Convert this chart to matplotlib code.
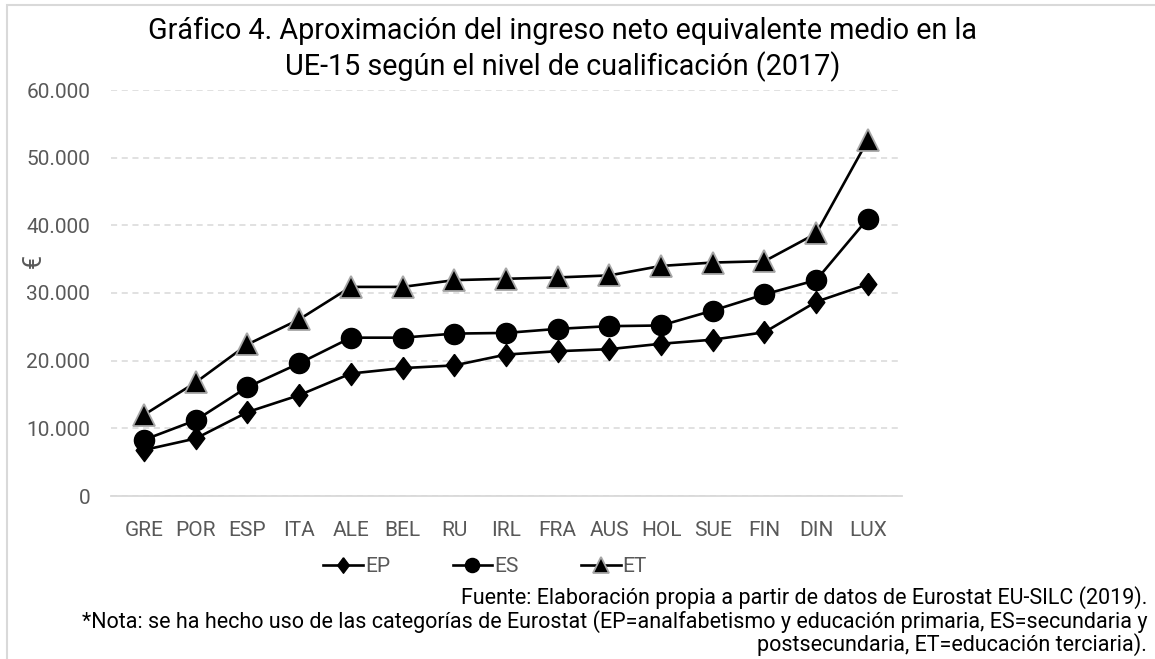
import numpy as np
import matplotlib
matplotlib.use('Agg')
import matplotlib.pyplot as plt
from matplotlib.patches import Rectangle

plt.rcParams['font.family'] = ['Roboto', 'DejaVu Sans']

# datos
paises = ['GRE', 'POR', 'ESP', 'ITA', 'ALE', 'BEL', 'RU', 'IRL', 'FRA', 'AUS',
          'HOL', 'SUE', 'FIN', 'DIN', 'LUX']
ep = [6800, 8500, 12400, 14900, 18100, 18900, 19300, 20900, 21400, 21700,
      22500, 23100, 24200, 28700, 31300]
es = [8300, 11200, 16100, 19600, 23400, 23400, 24000, 24100, 24700, 25100,
      25200, 27400, 29800, 31900, 41000]
et = [12000, 16800, 22400, 26100, 30900, 30900, 31900, 32100, 32300, 32600,
      34000, 34500, 34700, 38800, 52600]

gris = '#595959'

fig = plt.figure(figsize=(11.55, 6.59), dpi=100)
ax = fig.add_axes([111/1155, 1-496/659, 791/1155, 406/659])

x = np.arange(len(paises))
rombo = [(0, 1), (0.75, 0), (0, -1), (-0.75, 0), (0, 1)]

ax.plot(x, ep, color='black', lw=1.9, marker=rombo, ms=16, label='EP', zorder=3)
ax.plot(x, es, color='black', lw=1.9, marker='o', ms=14.5, label='ES', zorder=3)
ax.plot(x, et, color='black', lw=1.9, marker='^', ms=15.5, mec='#A6A6A6', mew=1.3,
        label='ET', zorder=3)

ax.set_xlim(-0.64, 14.66)
ax.set_ylim(0, 60000)
ax.set_yticks(np.arange(0, 60001, 10000))
ax.set_yticklabels(['0'] + ['%d.000' % v for v in range(10, 61, 10)])
ax.set_xticks(x)
ax.set_xticklabels(paises)
ax.grid(axis='y', color='#D9D9D9', ls=(0, (4, 3)), lw=1.1)
ax.set_axisbelow(True)
for s in ['top', 'right', 'left']:
    ax.spines[s].set_visible(False)
ax.spines['bottom'].set_color('#D9D9D9')
ax.spines['bottom'].set_linewidth(1.3)
ax.tick_params(length=0, labelcolor=gris)
ax.tick_params(axis='y', pad=15, labelsize=15)
ax.tick_params(axis='x', pad=18, labelsize=15)

ax.set_ylabel('€', fontsize=18, color=gris, rotation=90)
ax.yaxis.set_label_coords(-0.083, 0.58)

fig.text(0.487, 0.925, 'Gráfico 4. Aproximación del ingreso neto equivalente medio en la\n'
         'UE-15 según el nivel de cualificación (2017)',
         ha='center', va='center', fontsize=20.7, color='black', linespacing=1.3)

leg = fig.legend(loc='center', bbox_to_anchor=(0.42, 1-567/659), ncol=3,
                 frameon=False, fontsize=15, markerscale=0.7, handlelength=1.9,
                 handletextpad=0.1, columnspacing=3.0)
for t in leg.get_texts():
    t.set_color(gris)

notas = ['Fuente: Elaboración propia a partir de datos de Eurostat EU-SILC (2019).',
         '*Nota: se ha hecho uso de las categorías de Eurostat (EP=analfabetismo y educación primaria, ES=secundaria y',
         'postsecundaria, ET=educación terciaria).']
for i, n in enumerate(notas):
    fig.text(1147/1155, 1-(598+23.5*i)/659, n, ha='right', va='center',
             fontsize=15.5, color='black')

fig.patches.append(Rectangle((7/1155, -0.05), 1.2, 1.05-5/659, transform=fig.transFigure,
                             fill=False, ec='#D9D9D9', lw=1.5))

fig.savefig('out.png', dpi=100)
